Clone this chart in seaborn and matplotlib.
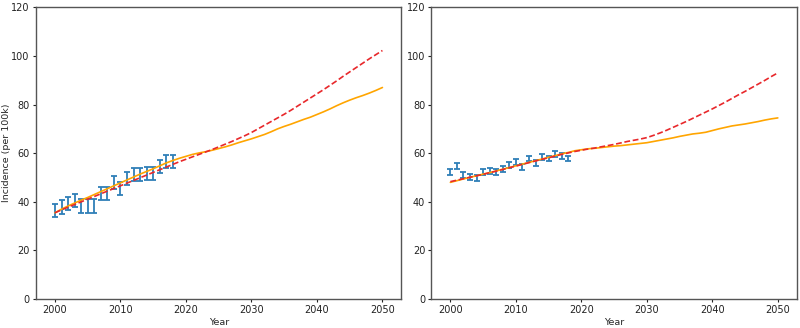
import numpy as np
import pandas as pd
import matplotlib
matplotlib.use("Agg")
import matplotlib.pyplot as plt
import seaborn as sns

# ---------------- data ----------------
years_proj = list(range(2000, 2051))
years_obs = list(range(2000, 2019))

left_red = [35.5, 36.7, 37.8, 38.9, 40.0, 41.1, 42.2, 43.3, 44.4, 45.5,
            46.6, 47.7, 48.8, 49.9, 51.0, 52.1, 53.2, 54.3, 55.4, 56.5,
            57.5, 58.5, 59.5, 60.5, 61.5, 62.6, 63.7, 64.8, 66.0, 67.2,
            68.5, 70.0, 71.5, 73.0, 74.5, 76.0, 77.6, 79.3, 81.0, 82.7,
            84.4, 86.1, 87.9, 89.7, 91.6, 93.4, 95.2, 97.0, 98.8, 100.5, 102.2]
left_orange = [35.5, 37.0, 38.3, 39.5, 40.7, 41.8, 43.0, 44.2, 45.4, 46.6,
               47.8, 49.0, 50.2, 51.4, 52.5, 53.6, 54.8, 56.0, 57.0, 57.9,
               58.7, 59.5, 60.1, 60.6, 61.2, 61.9, 62.6, 63.4, 64.3, 65.1,
               65.9, 66.8, 67.7, 68.8, 70.0, 71.0, 71.9, 72.9, 73.9, 74.8,
               75.9, 77.0, 78.2, 79.5, 80.7, 81.8, 82.8, 83.7, 84.7, 85.8, 87.0]
left_obs = [36.3, 37.9, 39.3, 40.4, 38.3, 38.3, 38.3, 43.4, 43.6, 47.8,
            45.5, 49.6, 51.1, 51.1, 51.8, 51.8, 54.7, 56.6, 56.6]
left_err = [2.7] * 19

right_red = [48.3, 48.9, 49.5, 50.1, 50.7, 51.3, 52.0, 52.6, 53.3, 54.0,
             54.7, 55.4, 56.1, 56.8, 57.5, 58.1, 58.8, 59.5, 60.1, 60.7,
             61.2, 61.7, 62.1, 62.6, 63.1, 63.6, 64.2, 64.8, 65.3, 65.8,
             66.4, 67.3, 68.3, 69.4, 70.6, 71.8, 73.0, 74.3, 75.6, 76.9,
             78.2, 79.6, 81.0, 82.5, 84.0, 85.4, 86.9, 88.4, 89.9, 91.5, 93.0]
right_orange = [48.0, 48.7, 49.4, 50.1, 50.7, 51.4, 52.0, 52.7, 53.4, 54.1,
                54.8, 55.5, 56.2, 56.9, 57.6, 58.3, 59.0, 59.7, 60.3, 61.0,
                61.4, 61.8, 62.0, 62.3, 62.6, 62.9, 63.1, 63.4, 63.7, 64.0,
                64.3, 64.8, 65.3, 65.8, 66.3, 66.9, 67.4, 67.9, 68.2, 68.6,
                69.3, 70.0, 70.6, 71.2, 71.6, 72.0, 72.5, 73.0, 73.6, 74.1, 74.5]
right_obs = [52.3, 54.6, 51.2, 50.3, 49.9, 52.3, 52.6, 52.3, 53.6, 55.3,
             56.3, 54.2, 57.8, 56.0, 58.5, 57.8, 59.5, 58.8, 57.8]
right_err = [1.2] * 19

xticks = [2000, 2010, 2020, 2030, 2040, 2050]
yticks = [0, 20, 40, 60, 80, 100, 120]
xlabel = "Year"
ylabel = "Incidence (per 100k)"

# ---------------- plot ----------------
sns.set_style("ticks")
plt.rcParams["font.family"] = ["DejaVu Sans"]
plt.rcParams["font.size"] = 7

fig, axes = plt.subplots(1, 2, figsize=(8, 3.28), dpi=100)
fig.subplots_adjust(left=0.045, right=0.996, top=0.978, bottom=0.088, wspace=0.082)

panels = [
    (left_red, left_orange, left_obs, left_err),
    (right_red, right_orange, right_obs, right_err),
]

for i, (ax, (red, orange, obs, err)) in enumerate(zip(axes, panels)):
    df = pd.DataFrame({"Year": years_proj, "red": red, "orange": orange})
    ax.errorbar(years_obs, obs, yerr=err, fmt="none", ecolor="#2f7fb8",
                elinewidth=1.3, capsize=2, capthick=1.3, zorder=2)
    sns.lineplot(data=df, x="Year", y="orange", ax=ax, color="orange",
                 linewidth=1.2, zorder=3)
    sns.lineplot(data=df, x="Year", y="red", ax=ax, color="#e8282b",
                 linewidth=1.2, linestyle=(0, (3.5, 1.6)), zorder=4)
    ax.set_ylim(0, 120)
    ax.set_xlim(1997.1, 2052.9)
    ax.set_xticks(xticks)
    ax.set_yticks(yticks)
    ax.set_xlabel(xlabel, fontsize=6.8, labelpad=2)
    ax.set_ylabel(ylabel if i == 0 else "", fontsize=6.8)
    ax.tick_params(labelsize=7, length=2.5, width=0.8, pad=2, colors="#222222")
    for s in ax.spines.values():
        s.set_visible(True)
        s.set_color("#555555")
        s.set_linewidth(1.0)

axes[0].yaxis.set_label_coords(-0.068, 0.5)

fig.savefig("out.png", dpi=100, facecolor="white")
